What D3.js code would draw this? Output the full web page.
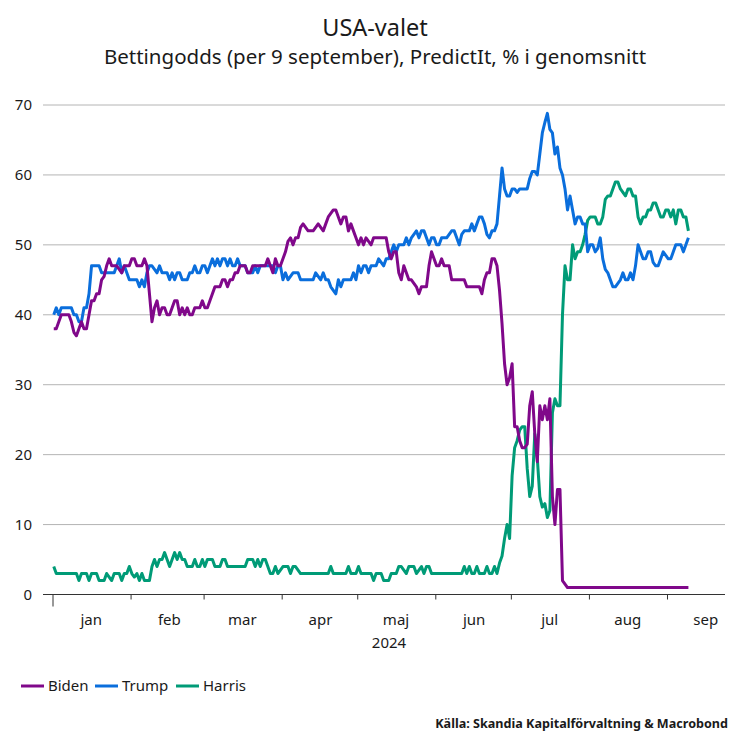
<!DOCTYPE html>
<html><head><meta charset="utf-8">
<script src="https://cdn.jsdelivr.net/npm/d3@7"></script>
<style>html,body{margin:0;padding:0;background:#fff}svg{display:block}text{font-family:"Noto Sans",sans-serif;fill:#1a1a1a}</style>
</head><body><svg id="c" width="750" height="750"></svg>
<script>
const titleText = "USA-valet";
const subtitleText = "Bettingodds (per 9 september), PredictIt, % i genomsnitt";
const sourceText = "Källa: Skandia Kapitalförvaltning & Macrobond";
const yTicks = [0,10,20,30,40,50,60,70];
const monthNames = ["jan","feb","mar","apr","maj","jun","jul","aug","sep"];
const seriesNames = ["Biden","Trump","Harris"];
const seriesColors = ["#80088a","#0a6edc","#009b77"];
const biden = [38,38,39,40,40,40,40,39,37.5,37,
38,39,38,38,40,42,42,43,43,45,
45.5,47,48,47,47,47,46.5,46,47,47,
47,48,48,47,47,47,48,47,43,39,
41,42,40,41,41,40,40,41,42,42,
40,41,40,41,40,40,41,41,41,42,
41,41,42,43,44,44,44,45,45,44,
45,45,46,46,47,47,47,46,46,47,
47,47,47,47,47,48,47,46,48,47,
47,48,49,50.5,51,50,51,51,52.5,53,
52.5,52,52,52,52.5,53,52.5,52,53,54,
54.5,55,55,54,53,54,54,52,53,52,
51,50,51,50,51,50.5,50,51,51,51,
51,51,51,49,48,49,49,46,45,47,
46,45,45,44.5,44,43,44,44,44,47,
49,48,47,47,48,47,47,47,45,45,
45,45,45,45,44,44,44,44,44,44,
43,45,46,46,48,48,47,43.5,38.7,33,
30,31,33,24,24,22,21,21,21.5,27,
29,23,19,27,25,27,25,28,14,10,
15,15,2,1.5,1,1,1,1,1,1,
1,1,1,1,1,1,1,1,1,1,
1,1,1,1,1,1,1,1,1,1,
1,1,1,1,1,1,1,1,1,1,
1,1,1,1,1,1,1,1,1,1,
1,1,1];
const trump = [40,41,40,41,41,41,41,41,40,40,
39,39,41,41,43,47,47,47,47,46,
46,46,46,46,46,47,48,46,47,46,
45,45,45,45,44,45,44,46,47,47,
46.5,46,47,46,46,46,45,46,45,46,
46,45,45,45,46,46,47,46,46,47,
47,46,47,48,47,48,47,48,48,47,
48,47,47,48,47,47,47,46,46,46,
47,46,47,47,47,47,47,47,46,47,
47,45,46,45,45.5,46,46,46,45,45,
45,45,45,45,46,45.5,45,46,45,45,
44,43.5,43,45,44,45,45,45,45,46,
45,47,46,47,47,46,47,47,47,48,
47.5,47,48,48,49,50,49,50,50,50,
51,50,51,51.5,52,51,52,52,51,50,
51,51,50,50,51,51,51,51.5,52,52,
51,50,51.5,52,52,52,53,52,53,54,
54,53,51.5,51,52,52,53,57,61,58,
57,57,58,58,57.5,58,58,58,58,59.5,
60.5,60.5,60,63,66,67.5,68.8,66.5,66,63,
64,61,60,58,55,57,55,53,54,54,
53,53,49,50,50,49,49.5,51,48,46.5,
46,45,44,44,44.5,45,46,45,45,46,
45,47,50,49,48,48,49,49,47.5,47,
47,48,49,48.5,48,48,49,50,50,50,
49,50,51];
const harris = [4,3,3,3,3,3,3,3,3,3,
2,3,3,3,2,3,3,3,2,2,
2,3,2.5,2,3,3,3,2,3,3,
4,3,2.5,3,2,3,2,2,2,4,
5,4,5,5,6,5,4,5,6,5,
6,5,5,4,4,4,5,4,4,5,
4,5,5,5,4,4,4,5,5,4,
4,4,4,4,4,4,4,5,5,5,
4,5,4,5,5,4,3,3,4,3,
3.5,4,4,4,3,4,4,3.5,3,3,
3,3,3,3,3,3,3,3,3,3,
4,3,3,3,3,3,3,4,3,3,
3,4,3,3,3,3,3,2,3,3,
3,2,2,2,3,3,3,4,4,3.5,
3,4,4,4,3,3.5,4,3,4,4,
3,3,3,3,3,3,3,3,3,3,
3,3,3,4,3,4,3,3,4,3,
3,3,4,3,3,4,3,4.5,5.5,8,
10,8,17,21,22,23.5,24,24,18,14,
15.5,23,19.5,14,12.5,13,11,12,26,28,
27,27,40,47,45,45,50,48,49,49,
50,51.5,53.5,54,54,54,53,53,54,56.5,
57,57,58,59,59,58,57.5,57,58,58,
57,57,54,53,54,54,55,55,56,56,
55,54,54,55,55,54,55,53,55,55,
54,54,52];

const dates = d3.timeDay.range(new Date(2024,0,1), new Date(2024,8,10)).map(d => d3.timeHour.offset(d,12));
const monthStarts = d3.timeMonth.range(new Date(2024,0,1), new Date(2024,8,2));
const monthMids = monthStarts.map(m => new Date(2024, m.getMonth(), 16));

const svg = d3.select("#c");
const x = d3.scaleTime().domain([new Date(2024,0,1), new Date(2024,8,1)]).range([52.5,667]);
const y = d3.scaleLinear().domain([0,70]).range([594.5,105]);
const left = 43, right = 725;

// grid and y labels
const yAxis = d3.axisLeft(y).tickValues(yTicks).tickSize(0).tickPadding(0).tickFormat(d3.format("d"));
const gy = svg.append("g").attr("transform",`translate(32,0)`).call(yAxis);
gy.select(".domain").remove();
gy.selectAll("text").style("font-size","15px").attr("dy","0.32em");
svg.append("g").selectAll("line").data(yTicks.filter(d=>d>0)).join("line")
  .attr("x1",left).attr("x2",right).attr("y1",d=>y(d)).attr("y2",d=>y(d))
  .attr("stroke","#b4b4b4").attr("stroke-width",1);

// x axis
const xAxis = d3.axisBottom(x).tickValues(monthStarts).tickSize(5).tickFormat("");
const gx = svg.append("g").attr("transform",`translate(0,${y(0)})`).call(xAxis);
gx.select(".domain").remove();
gx.selectAll("line").attr("stroke","#333").attr("stroke-width",1)
  .attr("y2",(d,i)=>i===0?12:5);
svg.append("line").attr("x1",left).attr("x2",right).attr("y1",y(0)).attr("y2",y(0)).attr("stroke","#333").attr("stroke-width",1.2);
const xLabels = d3.axisBottom(x).tickValues(monthMids).tickSize(0).tickPadding(0).tickFormat(d=>monthNames[d.getMonth()]);
const gl = svg.append("g").attr("transform",`translate(0.5,${y(0)+20})`).call(xLabels);
gl.select(".domain").remove();
gl.selectAll("text").style("font-size","15px").attr("dy","0.71em");
svg.append("text").attr("x",389).attr("y",648).attr("text-anchor","middle").style("font-size","15px").text("2024");

// lines
const line = d3.line().x((d,i)=>x(dates[i])).y(d=>y(d));
[[harris,2],[trump,1],[biden,0]].forEach(([vals,c])=>{
  svg.append("path").datum(vals).attr("d",line).attr("fill","none")
    .attr("stroke",seriesColors[c]).attr("stroke-width",3).attr("stroke-linejoin","round");
});

// titles
svg.append("text").attr("x",375).attr("y",36).attr("text-anchor","middle").style("font-size","23.5px").text(titleText);
svg.append("text").attr("x",375).attr("y",64).attr("text-anchor","middle").style("font-size","20.5px").text(subtitleText);

// legend
const legX = [21,95,176], labX=[48,122,203];
seriesNames.forEach((n,i)=>{
  svg.append("line").attr("x1",legX[i]).attr("x2",legX[i]+23).attr("y1",686).attr("y2",686)
    .attr("stroke",seriesColors[i]).attr("stroke-width",3);
  svg.append("text").attr("x",labX[i]).attr("y",691).style("font-size","15px").text(n);
});
svg.append("text").attr("x",728).attr("y",728).attr("text-anchor","end").style("font-size","12.6px").style("font-weight","700").text(sourceText);
</script></body></html>
